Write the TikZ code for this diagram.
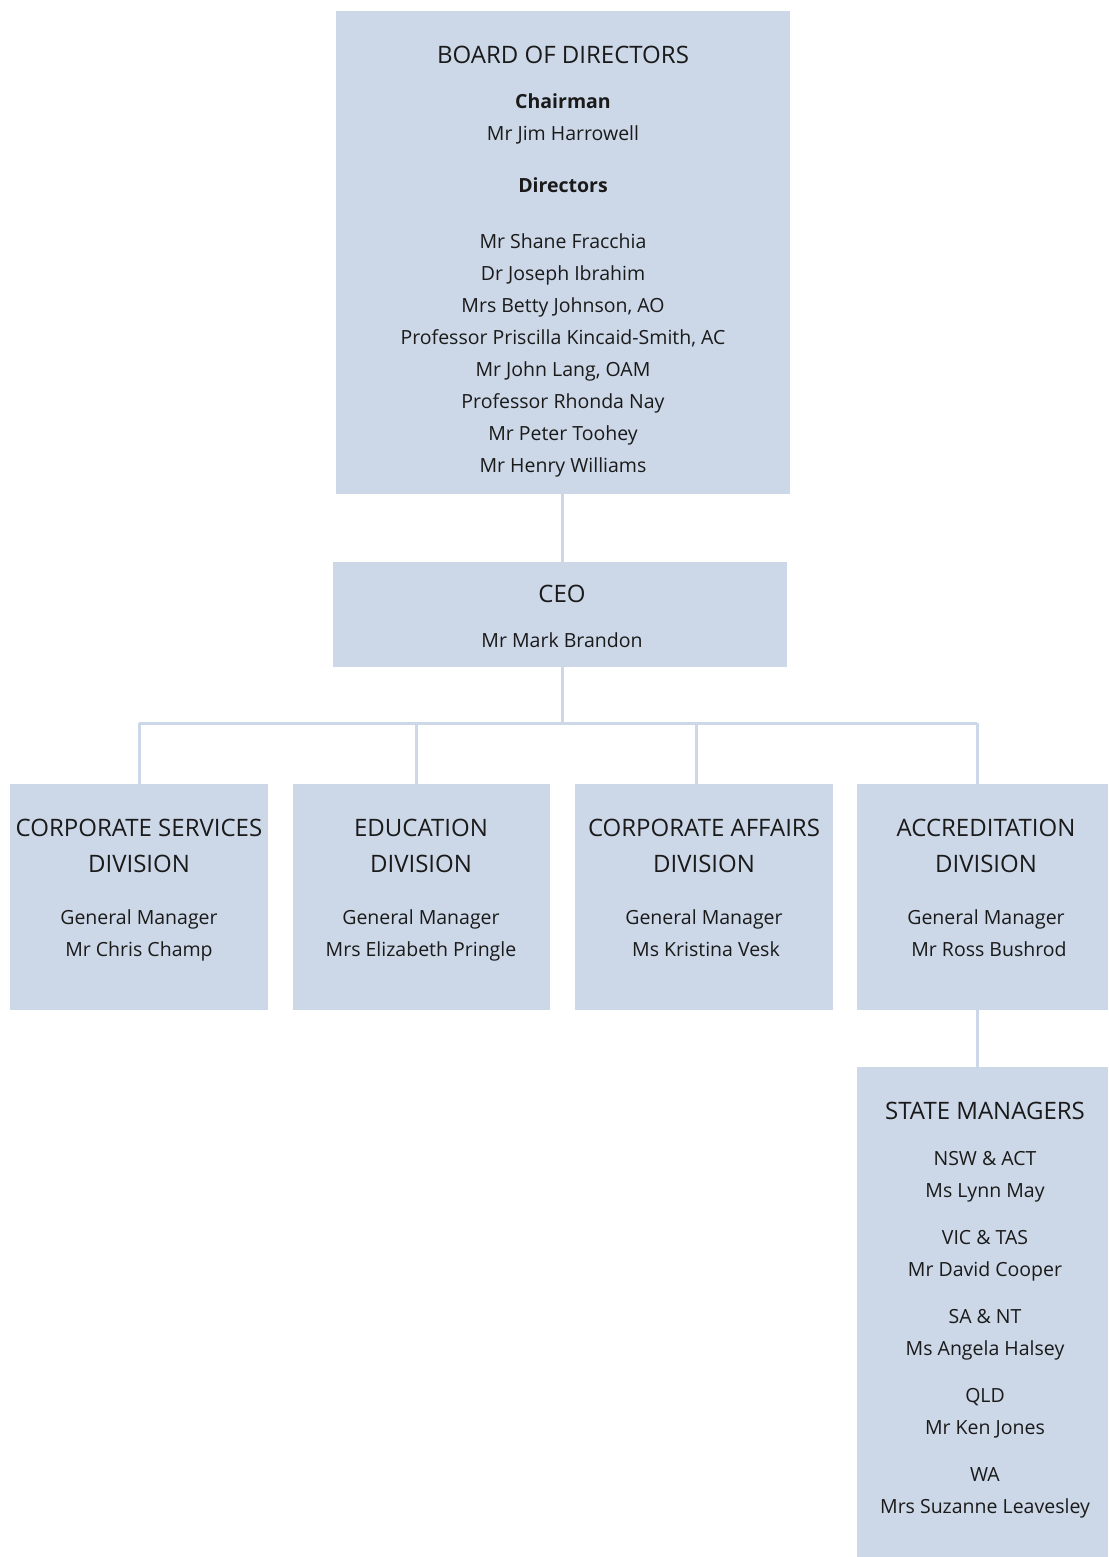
\documentclass[tikz,border=0pt]{standalone}
\usepackage{fontspec}
\setmainfont{Open Sans}
\definecolor{boxblue}{HTML}{CCD7E7}
\definecolor{txt}{HTML}{1A1A1A}
\begin{document}
\begin{tikzpicture}[x=1pt,y=-1pt,
  orgbox/.style={fill=boxblue,draw=none,inner sep=0pt,anchor=center},
  conn/.style={draw=boxblue,line width=3pt},
  ttl/.style={font=\fontsize{24}{28}\selectfont,text=txt,anchor=base,inner sep=0pt},
  nm/.style={font=\fontsize{19.5}{24}\selectfont,text=txt,anchor=base,inner sep=0pt},
  bnm/.style={font=\fontsize{19.5}{24}\selectfont\bfseries,text=txt,anchor=base,inner sep=0pt}]
\useasboundingbox (0,0) rectangle (1108,1557);
% boxes
\node[orgbox,minimum width=454pt,minimum height=483pt] (board) at (563,252.5) {};
\node[orgbox,minimum width=454pt,minimum height=105pt] (ceo) at (560,614.5) {};
\node[orgbox,minimum width=258pt,minimum height=226pt] (d1) at (139,897) {};
\node[orgbox,minimum width=257pt,minimum height=226pt] (d2) at (421.5,897) {};
\node[orgbox,minimum width=258pt,minimum height=226pt] (d3) at (704,897) {};
\node[orgbox,minimum width=251pt,minimum height=226pt] (d4) at (982.5,897) {};
\node[orgbox,minimum width=251pt,minimum height=490pt] (sm) at (982.5,1312) {};
% connectors
\coordinate (bar) at (562,723);
\coordinate (j1) at (139,723);
\coordinate (j2) at (416,723);
\coordinate (j3) at (696,723);
\coordinate (j4) at (977,723);
\draw[conn] (board.south -| bar) -- (ceo.north -| bar);
\draw[conn] (ceo.south -| bar) -- (bar);
\draw[conn] (j1) -- (j4);
\draw[conn] (j1) -- (j1 |- d1.north);
\draw[conn] (j2) -- (j2 |- d2.north);
\draw[conn] (j3) -- (j3 |- d3.north);
\draw[conn] (j4) -- (j4 |- d4.north);
\draw[conn] (d4.south -| j4) -- (sm.north -| j4);
% board text
\node[ttl] (bt) at (563,64) {BOARD OF DIRECTORS};
\node[bnm] (bc) at (563,109) {Chairman};
\node[nm] (b0) at (563,141) {Mr Jim Harrowell};
\node[bnm] (bd) at (563,193) {Directors};
\node[nm] (b1) at (563,248) {Mr Shane Fracchia};
\node[nm] (b2) at (563,280) {Dr Joseph Ibrahim};
\node[nm] (b3) at (563,312) {Mrs Betty Johnson, AO};
\node[nm] (b4) at (563,344) {Professor Priscilla Kincaid-Smith, AC};
\node[nm] (b5) at (563,376) {Mr John Lang, OAM};
\node[nm] (b6) at (563,408) {Professor Rhonda Nay};
\node[nm] (b7) at (563,440) {Mr Peter Toohey};
\node[nm] (b8) at (563,472) {Mr Henry Williams};
% ceo
\node[ttl] (ct) at (562,602) {CEO};
\node[nm] (cn) at (562,647) {Mr Mark Brandon};
% divisions
\node[ttl] (d1a) at (139,836) {CORPORATE SERVICES};
\node[ttl] (d1b) at (139,872) {DIVISION};
\node[nm] (d1c) at (139,924) {General Manager};
\node[nm] (d1d) at (139,956) {Mr Chris Champ};
\node[ttl] (d2a) at (421,836) {EDUCATION};
\node[ttl] (d2b) at (421,872) {DIVISION};
\node[nm] (d2c) at (421,924) {General Manager};
\node[nm] (d2d) at (421,956) {Mrs Elizabeth Pringle};
\node[ttl] (d3a) at (704,836) {CORPORATE AFFAIRS};
\node[ttl] (d3b) at (704,872) {DIVISION};
\node[nm] (d3c) at (704,924) {General Manager};
\node[nm] (d3d) at (706,956) {Ms Kristina Vesk};
\node[ttl] (d4a) at (986,836) {ACCREDITATION};
\node[ttl] (d4b) at (986,872) {DIVISION};
\node[nm] (d4c) at (986,924) {General Manager};
\node[nm] (d4d) at (989,956) {Mr Ross Bushrod};
% state managers
\node[ttl] (st) at (985,1119) {STATE MANAGERS};
\node[nm] (s1) at (985,1165) {NSW \& ACT};
\node[nm] (s1n) at (985,1197) {Ms Lynn May};
\node[nm] (s2) at (985,1244) {VIC \& TAS};
\node[nm] (s2n) at (985,1276) {Mr David Cooper};
\node[nm] (s3) at (985,1323) {SA \& NT};
\node[nm] (s3n) at (985,1355) {Ms Angela Halsey};
\node[nm] (s4) at (985,1402) {QLD};
\node[nm] (s4n) at (985,1434) {Mr Ken Jones};
\node[nm] (s5) at (985,1481) {WA};
\node[nm] (s5n) at (985,1513) {Mrs Suzanne Leavesley};
\end{tikzpicture}
\end{document}
